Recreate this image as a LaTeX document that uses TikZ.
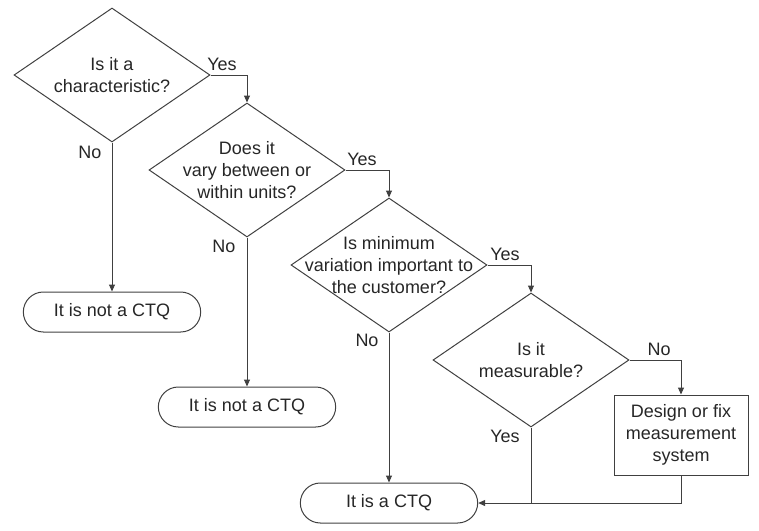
\documentclass[tikz,border=0pt]{standalone}
\usepackage{fontspec}
\setmainfont{Liberation Sans}
\usetikzlibrary{shapes.geometric,shapes.misc,arrows.meta}

\begin{document}
\begin{tikzpicture}[x=1pt, y=-1pt,
    font=\fontsize{18}{22}\selectfont,
    every node/.style={text=black!85},
    decision/.style={diamond, draw=black!75, line width=1pt,
      minimum width=196pt, minimum height=134pt, inner sep=0pt},
    question/.style={align=center, inner sep=0pt},
    terminal/.style={rounded rectangle, draw=black!75, line width=1pt,
      minimum width=184pt, minimum height=40pt},
    action/.style={rectangle, draw=black!75, line width=1pt,
      minimum width=134pt, minimum height=80pt, align=center},
    flow/.style={draw=black!75, line width=1pt, -{Triangle[length=7pt,width=6pt]}},
    link/.style={draw=black!75, line width=1pt},
    answer/.style={inner sep=0pt}]
  \useasboundingbox (0,0) rectangle (759,530);

  % Decisions (diamond outline + text on top)
  \node[decision] (q1) at (112,75) {};
  \node[question] (q1t) at (q1) {Is it a\\characteristic?};
  \node[decision] (q2) at (247,170) {};
  \node[question] (q2t) at (q2) {Does it\\vary between or\\within units?};
  \node[decision] (q3) at (389,265) {};
  \node[question] (q3t) at (q3) {Is minimum\\variation important to\\the customer?};
  \node[decision] (q4) at (531,360) {};
  \node[question] (q4t) at (q4) {Is it\\measurable?};

  % End points
  \node[terminal] (t1) at (112,312) {It is not a CTQ};
  \node[terminal] (t2) at (247,407) {It is not a CTQ};
  \node[terminal] (t3) at (389,503) {It is a CTQ};

  % Corrective step
  \node[action] (fix) at (681,435) {Design or fix\\measurement\\system};

  % Yes branches
  \draw[flow] (q1.east) -| (q2.north);
  \draw[flow] (q2.east) -| (q3.north);
  \draw[flow] (q3.east) -| (q4.north);
  \draw[flow] (q4.south) |- (t3.east);

  % No branches
  \draw[flow] (q1.south) -- (t1.north);
  \draw[flow] (q2.south) -- (t2.north);
  \draw[flow] (q3.south) -- (t3.north);
  \draw[flow] (q4.east) -| (fix.north);
  \draw[link] (fix.south) |- (q4.south |- t3.east);

  % Branch labels
  \node[answer] (y1) at (222,64) {Yes};
  \node[answer] (n1) at (90,152) {No};
  \node[answer] (y2) at (362,159) {Yes};
  \node[answer] (n2) at (224,246) {No};
  \node[answer] (y3) at (505,254) {Yes};
  \node[answer] (n3) at (367,340) {No};
  \node[answer] (n4) at (659,349) {No};
  \node[answer] (y4) at (505,436) {Yes};
\end{tikzpicture}
\end{document}
